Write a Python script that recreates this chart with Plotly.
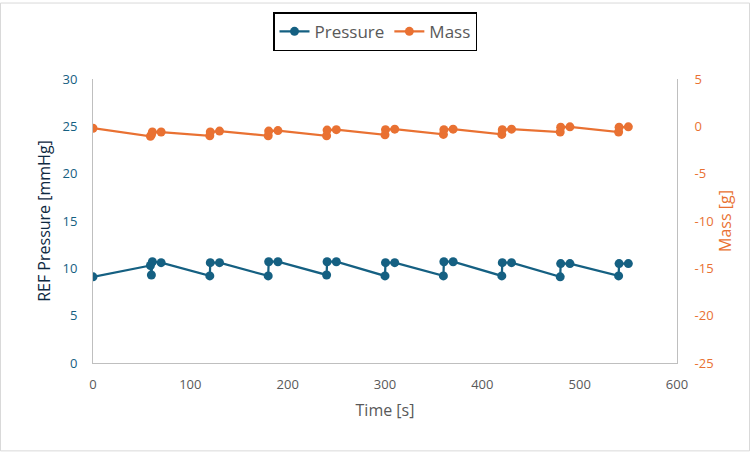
import plotly.graph_objects as go

# ---- data ----
time_s = [0, 59, 60, 61, 70,
          120, 120.5, 130,
          180, 180.5, 190,
          240, 240.5, 250,
          300, 300.5, 310,
          360, 360.5, 370,
          420, 420.5, 430,
          480, 480.5, 490,
          540, 540.5, 550]
pressure = [9.1, 10.3, 9.3, 10.7, 10.6,
            9.2, 10.6, 10.6,
            9.2, 10.7, 10.7,
            9.3, 10.7, 10.7,
            9.2, 10.6, 10.6,
            9.2, 10.7, 10.7,
            9.2, 10.6, 10.6,
            9.1, 10.5, 10.5,
            9.2, 10.5, 10.5]
mass = [-0.2, -1.05, -0.9, -0.6, -0.6,
        -1.0, -0.6, -0.5,
        -1.0, -0.5, -0.45,
        -1.0, -0.4, -0.35,
        -0.9, -0.35, -0.3,
        -0.85, -0.35, -0.3,
        -0.85, -0.35, -0.3,
        -0.6, -0.1, -0.05,
        -0.6, -0.1, -0.05]

x_ticks = [0, 100, 200, 300, 400, 500, 600]
p_ticks = [0, 5, 10, 15, 20, 25, 30]
m_ticks = [-25, -20, -15, -10, -5, 0, 5]
m_labels = ["-25", "-20", "-15", "-10", "-5", "0", "5"]

BLUE = "#156082"
ORANGE = "#E97132"
GRAY = "#595959"
AXIS = "#BFBFBF"
FONT = "Open Sans"

W, H = 750, 452
L, R, T, B = 93, 73, 77, 89

fig = go.Figure()
fig.add_trace(go.Scatter(
    x=time_s, y=pressure, name="Pressure", mode="lines+markers",
    line=dict(color=BLUE, width=2.25), marker=dict(color=BLUE, size=9),
    yaxis="y"))
fig.add_trace(go.Scatter(
    x=time_s, y=mass, name="Mass", mode="lines+markers",
    line=dict(color=ORANGE, width=2.25), marker=dict(color=ORANGE, size=9),
    yaxis="y2"))

pw = W - L - R
ph = H - T - B
# chart-area border (in paper coordinates relative to plot area)
fig.add_shape(type="rect", xref="paper", yref="paper",
              x0=(0.5 - L) / pw, x1=(W - 0.5 - L) / pw,
              y0=-(H - 0.5 - T - ph) / ph, y1=(T - 0.5) / ph + 1,
              line=dict(color="#D9D9D9", width=1), layer="below")

fig.update_layout(
    width=W, height=H,
    margin=dict(l=L, r=R, t=T, b=B),
    paper_bgcolor="white", plot_bgcolor="white",
    font=dict(family=FONT, size=13, color=GRAY),
    showlegend=True,
    legend=dict(orientation="h", x=(375 - L) / pw, xanchor="center",
                y=1.235, yanchor="top",
                bordercolor="black", borderwidth=1.5,
                font=dict(size=17, color=GRAY), itemwidth=30,
                tracegroupgap=0, bgcolor="white"),
    xaxis=dict(range=[0, 600], tickvals=x_ticks, showgrid=False, zeroline=False,
               showline=True, linecolor=AXIS, linewidth=1,
               ticks="", ticklabelstandoff=9,
               tickfont=dict(size=13, color=GRAY),
               title=dict(text="Time [s]", font=dict(size=16, color=GRAY), standoff=13)),
    yaxis=dict(range=[0, 30], tickvals=p_ticks, showgrid=False, zeroline=False,
               showline=True, linecolor=AXIS, linewidth=1,
               ticks="", ticklabelstandoff=12,
               tickfont=dict(size=13, color=BLUE),
               title=dict(text="REF Pressure [mmHg]", font=dict(size=16, color="#0E2841"),
                          standoff=7)),
    yaxis2=dict(range=[-25, 5], tickvals=m_ticks, ticktext=m_labels,
                overlaying="y", side="right",
                showgrid=False, zeroline=False,
                showline=True, linecolor=AXIS, linewidth=1,
                ticks="", ticklabelstandoff=14,
                tickfont=dict(size=13, color=ORANGE),
                title=dict(text="Mass [g]", font=dict(size=16, color=ORANGE), standoff=6)),
)

fig.write_html("out.html")
